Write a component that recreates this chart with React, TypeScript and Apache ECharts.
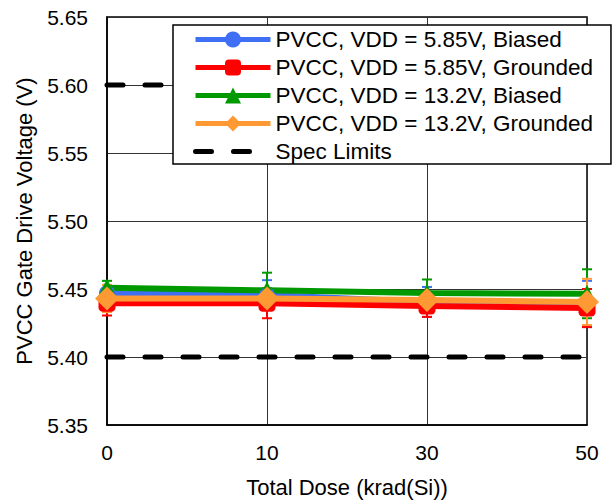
import React, { useEffect, useRef } from "react";
import * as echarts from "echarts";

const doses = ["0", "10", "30", "50"];
const yTicks = { min: 5.35, max: 5.65, interval: 0.05 };

const blueName = "PVCC, VDD = 5.85V, Biased";
const redName = "PVCC, VDD = 5.85V, Grounded";
const greenName = "PVCC, VDD = 13.2V, Biased";
const orangeName = "PVCC, VDD = 13.2V, Grounded";
const specName = "Spec Limits";

const blueValues = [5.447, 5.4455, 5.4405, 5.439];
const redValues = [5.4395, 5.4395, 5.4375, 5.436];
const greenValues = [5.451, 5.449, 5.447, 5.4465];
const orangeValues = [5.443, 5.443, 5.442, 5.4405];

const blueErr = [0.006, 0.011, 0.011, 0.017];
const redErr = [0.009, 0.011, 0.008, 0.014];
const greenErr = [0.005, 0.013, 0.01, 0.018];
const orangeErr = [0.01, 0.006, 0.006, 0.017];

const specLow = [5.4, 5.4, 5.4, 5.4];
const specHigh = [5.6, 5.6, 5.6, 5.6];

const FONT = "'Liberation Sans', Arial, sans-serif";

function errSeries(name: string, values: number[], errs: number[], color: string) {
  const data = values.map((v, i) => [i, v - errs[i], v + errs[i]]);
  return {
    type: "custom",
    name: name + " err",
    z: 1,
    silent: true,
    data,
    renderItem: (params: any, api: any) => {
      const x = api.value(0);
      const lo = api.coord([x, api.value(1)]);
      const hi = api.coord([x, api.value(2)]);
      const w = 5;
      const style = { stroke: color, lineWidth: 2 };
      return {
        type: "group",
        children: [
          { type: "line", shape: { x1: lo[0], y1: lo[1], x2: hi[0], y2: hi[1] }, style },
          { type: "line", shape: { x1: lo[0] - w, y1: lo[1], x2: lo[0] + w, y2: lo[1] }, style },
          { type: "line", shape: { x1: hi[0] - w, y1: hi[1], x2: hi[0] + w, y2: hi[1] }, style },
        ],
      };
    },
  };
}

function lineSeries(name: string, values: number[], color: string, symbol: string, size: number) {
  return {
    type: "line",
    name,
    data: values,
    z: 3,
    symbol,
    symbolSize: size,
    itemStyle: { color },
    lineStyle: { color, width: 6 },
  };
}

export default function App() {
  const ref = useRef<HTMLDivElement>(null);
  useEffect(() => {
    if (!ref.current) return;
    const chart = echarts.init(ref.current, undefined, { renderer: "svg" });
    const specStyle = { color: "#000", width: 5, type: [16, 22], cap: "round" };
    chart.setOption({
      animation: false,
      textStyle: { fontFamily: FONT },
      grid: { left: 107, right: 28, top: 17, bottom: 78, show: true, borderColor: "#000", borderWidth: 1.5, backgroundColor: "transparent" },
      legend: {
        orient: "vertical",
        left: 173,
        top: 25,
        data: [
          blueName,
          redName,
          greenName,
          orangeName,
          { name: specName, itemStyle: { opacity: 0 } },
        ],
        backgroundColor: "#fff",
        borderColor: "#000",
        borderWidth: 1.5,
        padding: [3, 18, 1, 20],
        itemWidth: 75,
        itemHeight: 20,
        itemGap: 5,
        lineStyle: { width: 5 },
        textStyle: { fontSize: 22.5, lineHeight: 20, color: "#000", fontFamily: FONT },
      },
      xAxis: {
        type: "category",
        data: doses,
        boundaryGap: false,
        name: "Total Dose (krad(Si))",
        nameLocation: "middle",
        nameGap: 51,
        nameTextStyle: { fontSize: 22, color: "#000" },
        axisLine: { lineStyle: { color: "#000", width: 1.5 } },
        axisTick: { show: false },
        axisLabel: { fontSize: 21, color: "#000", margin: 17 },
        splitLine: { show: true, lineStyle: { color: "#333", width: 1 } },
      },
      yAxis: {
        type: "value",
        min: yTicks.min,
        max: yTicks.max,
        interval: yTicks.interval,
        name: "PVCC Gate Drive Voltage (V)",
        nameLocation: "middle",
        nameGap: 72,
        nameTextStyle: { fontSize: 22, color: "#000" },
        axisLine: { show: true, lineStyle: { color: "#000", width: 1.5 } },
        axisTick: { show: false },
        axisLabel: { fontSize: 21, color: "#000", margin: 19, formatter: (v: number) => v.toFixed(2) },
        splitLine: { show: true, lineStyle: { color: "#333", width: 1 } },
      },
      series: [
        errSeries(blueName, blueValues, blueErr, "#3f6ff5"),
        errSeries(redName, redValues, redErr, "#ff0000"),
        errSeries(greenName, greenValues, greenErr, "#009900"),
        errSeries(orangeName, orangeValues, orangeErr, "#ff9933"),
        {
          type: "line",
          name: specName,
          data: specLow,
          symbol: "none",
          z: 2,
          lineStyle: specStyle,
          itemStyle: { color: "#000" },
        },
        {
          type: "line",
          name: specName,
          data: specHigh,
          symbol: "none",
          z: 2,
          lineStyle: specStyle,
          itemStyle: { color: "#000" },
        },
        lineSeries(blueName, blueValues, "#3f6ff5", "circle", 16),
        lineSeries(redName, redValues, "#ff0000", "roundRect", 17),
        lineSeries(greenName, greenValues, "#009900", "triangle", 18),
        lineSeries(orangeName, orangeValues, "#ff9933", "diamond", 24),
      ],
    });
    return () => chart.dispose();
  }, []);
  return <div ref={ref} style={{ width: 615, height: 503, position: "absolute", left: 0, top: 0 }} />;
}
